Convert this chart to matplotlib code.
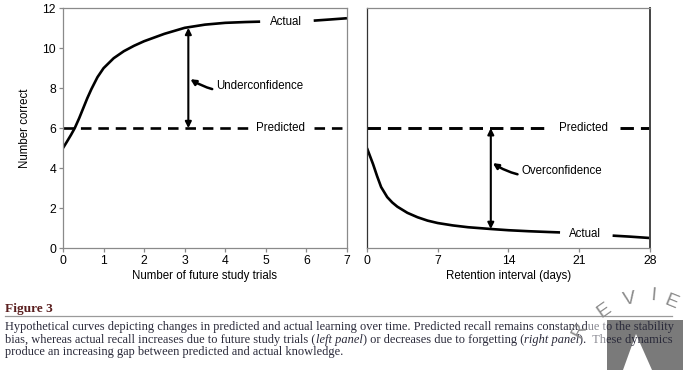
import matplotlib.pyplot as plt
from matplotlib.patches import Rectangle, Polygon

plt.rcParams['font.family'] = ['Liberation Sans', 'DejaVu Sans']

# left panel: learning with future study trials
trials = [0, 0.1, 0.2, 0.29, 0.4, 0.5, 0.6, 0.7, 0.85, 1.0, 1.25, 1.5, 1.75, 2.0,
          2.5, 3.0, 3.5, 4.0, 4.5, 4.86]
actual_left = [5.0, 5.33, 5.67, 6.0, 6.5, 7.0, 7.5, 7.95, 8.55, 9.0, 9.5, 9.85, 10.12, 10.35,
               10.72, 11.02, 11.18, 11.27, 11.31, 11.33]
trials_tail = [6.18, 6.6, 7.0]
actual_left_tail = [11.38, 11.44, 11.5]

# right panel: forgetting over retention interval
days = [0, 0.3, 0.6, 1.0, 1.4, 2.0, 2.5, 3, 4, 5, 6, 7, 8.5, 10, 12.3, 14, 16, 18, 19.1]
actual_right = [5.0, 4.6, 4.2, 3.6, 3.05, 2.55, 2.28, 2.07, 1.76, 1.54, 1.37, 1.25, 1.13,
                1.04, 0.95, 0.89, 0.84, 0.8, 0.78]
days_tail = [24.3, 26, 28]
actual_right_tail = [0.62, 0.57, 0.5]

predicted = 6
left_xticks = [0, 1, 2, 3, 4, 5, 6, 7]
right_xticks = [0, 7, 14, 21, 28]
yticks = [0, 2, 4, 6, 8, 10, 12]

caption = ("Hypothetical curves depicting changes in predicted and actual learning over time. "
           "Predicted recall remains constant due to the stability")

fig = plt.figure(figsize=(6.83, 3.70), dpi=100)
ax1 = fig.add_axes([0.0922, 0.3297, 0.4158, 0.648])
ax2 = fig.add_axes([0.5373, 0.3297, 0.4144, 0.648])

lw = 1.9
fs = 8.3

# ---- left panel
ax1.plot(trials, actual_left, color='black', lw=lw, solid_capstyle='butt', solid_joinstyle='round')
ax1.plot(trials_tail, actual_left_tail, color='black', lw=lw, solid_capstyle='butt')
ax1.plot([0, 4.57], [predicted, predicted], color='black', lw=lw, dashes=(4, 2.6))
ax1.plot([6.18, 7], [predicted, predicted], color='black', lw=lw, dashes=(4, 2.6))
ax1.text(5.5, 11.33, 'Actual', ha='center', va='center', fontsize=fs)
ax1.text(5.37, predicted, 'Predicted', ha='center', va='center', fontsize=fs)
ax1.annotate('', xy=(3.09, 11.02), xytext=(3.09, predicted),
             arrowprops=dict(arrowstyle='<|-|>', color='black', lw=1.5,
                             mutation_scale=9, shrinkA=0, shrinkB=0))
ax1.annotate('Underconfidence', xy=(3.14, 8.45), xytext=(3.78, 8.1),
             fontsize=fs, va='center', ha='left',
             arrowprops=dict(arrowstyle='-|>', color='black', lw=1.8,
                             mutation_scale=8, shrinkA=1, shrinkB=0,
                             connectionstyle='arc3,rad=-0.25'))
ax1.set_xlim(0, 7)
ax1.set_ylim(0, 12)
ax1.set_xticks(left_xticks)
ax1.set_yticks(yticks)
ax1.set_xlabel('Number of future study trials', fontsize=fs, labelpad=2)
ax1.set_ylabel('Number correct', fontsize=fs, labelpad=8)

# ---- right panel
ax2.plot(days, actual_right, color='black', lw=lw, solid_capstyle='butt', solid_joinstyle='round')
ax2.plot(days_tail, actual_right_tail, color='black', lw=lw, solid_capstyle='butt')
ax2.plot([0, 18.1], [predicted, predicted], color='black', lw=lw + 0.2, dashes=(4.6, 2.4))
ax2.plot([25.0, 28], [predicted, predicted], color='black', lw=lw + 0.2, dashes=(4.6, 2.4))
ax2.text(21.4, predicted, 'Predicted', ha='center', va='center', fontsize=fs)
ax2.text(21.6, 0.72, 'Actual', ha='center', va='center', fontsize=fs)
ax2.annotate('', xy=(12.25, 6), xytext=(12.25, 0.95),
             arrowprops=dict(arrowstyle='<|-|>', color='black', lw=1.5,
                             mutation_scale=9, shrinkA=0, shrinkB=0))
ax2.annotate('Overconfidence', xy=(12.45, 4.25), xytext=(15.3, 3.83),
             fontsize=fs, va='center', ha='left',
             arrowprops=dict(arrowstyle='-|>', color='black', lw=1.8,
                             mutation_scale=8, shrinkA=1, shrinkB=0,
                             connectionstyle='arc3,rad=-0.25'))
ax2.set_xlim(0, 28)
ax2.set_ylim(0, 12)
ax2.set_xticks(right_xticks)
ax2.set_yticks([])
ax2.set_xlabel('Retention interval (days)', fontsize=fs, labelpad=2)

for ax in (ax1, ax2):
    for s in ax.spines.values():
        s.set_color('#8a8a8a')
        s.set_linewidth(0.9)
    ax.tick_params(axis='both', labelsize=fs + 0.5, color='#8a8a8a', length=3, width=0.9, pad=2)
ax2.spines['left'].set_color('#333333')
ax2.spines['right'].set_color('#444444')
ax2.spines['right'].set_linewidth(1.4)

# ---- caption block
fig.text(0.008, 1 - 309 / 370, 'Figure 3', fontsize=9.6, fontweight='bold',
         family='Liberation Serif', color='#5a1e1e', va='center', ha='left')
fig.add_artist(plt.Line2D([0.008, 0.984], [1 - 316 / 370] * 2, color='#9a9a9a', lw=0.9))

# watermark box behind text
fig.add_artist(Rectangle((607 / 683, 0), 76 / 683, 50 / 370, transform=fig.transFigure,
                         facecolor='#7a7a7a', edgecolor='none', zorder=0))
fig.add_artist(Polygon([(623 / 683, 0), (636 / 683, 1 - 334 / 370), (652 / 683, 0)],
                       closed=True, transform=fig.transFigure,
                       facecolor='white', edgecolor='none', zorder=0))

cap_kw = dict(fontsize=8.95, family='Liberation Serif', color='#2a2a3a', va='center', ha='left')
fig.text(0.008, 1 - 327 / 370, caption, **cap_kw)
line2 = fig.text(0.008, 1 - 340 / 370, 'bias, whereas actual recall increases due to future study trials (', **cap_kw)
fig.canvas.draw()


def after(t, s, **kw):
    r = fig.canvas.get_renderer()
    bb = t.get_window_extent(r)
    x = bb.x1 / fig.bbox.width
    t2 = fig.text(x, t.get_position()[1], s, **{**cap_kw, **kw})
    fig.canvas.draw()
    return t2


t = after(line2, 'left panel', style='italic')
t = after(t, ') or decreases due to forgetting (')
t = after(t, 'right panel', style='italic')
t = after(t, ').  These dynamics')
fig.text(0.008, 1 - 352 / 370, 'produce an increasing gap between predicted and actual knowledge.', **cap_kw)

# fade over part of caption
fig.add_artist(Rectangle((588 / 683, 1 - 345 / 370), 19 / 683, 27 / 370, transform=fig.transFigure,
                         facecolor='white', alpha=0.45, edgecolor='none', zorder=5))

# watermark letters
for ch, x, y, rot in [('R', 580, 331, 62), ('E', 604, 311, 35), ('V', 630, 299, 10),
                      ('I', 653, 296, -5), ('E', 671, 302, -22)]:
    fig.text(x / 683, 1 - y / 370, ch, fontsize=14, color='#8c8c8c', rotation=rot,
             ha='center', va='center', family='Liberation Sans', zorder=6)

fig.savefig('out.png', dpi=100)
